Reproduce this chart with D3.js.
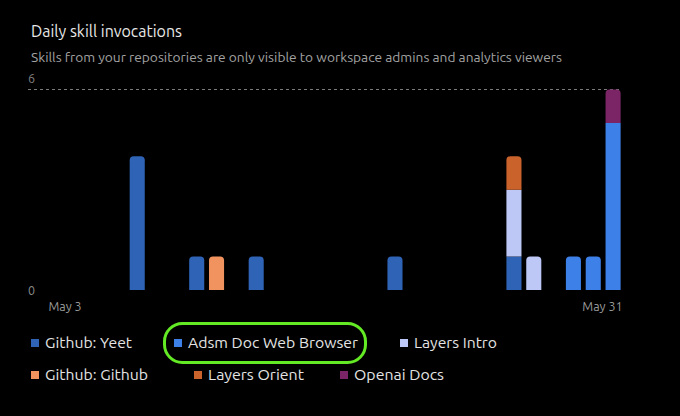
<!DOCTYPE html>
<html>
<head>
<meta charset="utf-8">
<script src="https://cdn.jsdelivr.net/npm/d3@7"></script>
<style>
  html, body { margin: 0; padding: 0; background: #000; }
  svg { display: block; }
  text { font-family: Ubuntu, "Noto Sans", "Open Sans", sans-serif; }
</style>
</head>
<body>
<svg id="chart" width="680" height="416"></svg>
<script>
const days = ["May 3","May 4","May 5","May 6","May 7","May 8","May 9","May 10","May 11","May 12",
  "May 13","May 14","May 15","May 16","May 17","May 18","May 19","May 20","May 21","May 22",
  "May 23","May 24","May 25","May 26","May 27","May 28","May 29","May 30","May 31"];
const seriesNames = ["Github: Yeet","Adsm Doc Web Browser","Layers Intro","Github: Github","Layers Orient","Openai Docs"];
const seriesColors = ["#2e63b6","#3d80e8","#bdc8f6","#f0935f","#c9622b","#7b2567"];
const githubYeet      = [0,0,0,0,4,0,0,1,0,0,1,0,0,0,0,0,0,1,0,0,0,0,0,1,0,0,0,0,0];
const adsmDocWeb      = [0,0,0,0,0,0,0,0,0,0,0,0,0,0,0,0,0,0,0,0,0,0,0,0,0,0,1,1,5];
const layersIntro     = [0,0,0,0,0,0,0,0,0,0,0,0,0,0,0,0,0,0,0,0,0,0,0,2,1,0,0,0,0];
const githubGithub    = [0,0,0,0,0,0,0,0,1,0,0,0,0,0,0,0,0,0,0,0,0,0,0,0,0,0,0,0,0];
const layersOrient    = [0,0,0,0,0,0,0,0,0,0,0,0,0,0,0,0,0,0,0,0,0,0,0,1,0,0,0,0,0];
const openaiDocs      = [0,0,0,0,0,0,0,0,0,0,0,0,0,0,0,0,0,0,0,0,0,0,0,0,0,0,0,0,1];
const yTicks = [0, 6];
const xTickLabels = ["May 3", "May 31"];
const titleText = "Daily skill invocations";
const subtitleText = "Skills from your repositories are only visible to workspace admins and analytics viewers";
const highlightedSeries = "Adsm Doc Web Browser";

const seriesValues = [githubYeet, adsmDocWeb, layersIntro, githubGithub, layersOrient, openaiDocs];
const table = days.map((d, i) => {
  const row = { day: d };
  seriesNames.forEach((s, j) => row[s] = seriesValues[j][i]);
  return row;
});

const svg = d3.select("#chart");

// Title & subtitle
svg.append("text").attr("x", 31).attr("y", 37)
  .attr("fill", "#e8e8e8").attr("font-size", 16)
  .attr("textLength", 151).attr("lengthAdjust", "spacingAndGlyphs")
  .text(titleText);
svg.append("text").attr("x", 31).attr("y", 62)
  .attr("fill", "#a3a3a3").attr("font-size", 13.5)
  .attr("textLength", 531).attr("lengthAdjust", "spacingAndGlyphs")
  .text(subtitleText);

const x = d3.scaleBand().domain(days).range([48, 623]).paddingInner(0.24).paddingOuter(0.12);
const y = d3.scaleLinear().domain([0, 6]).range([290, 89.5]);

// y grid at max
svg.append("line")
  .attr("x1", 28).attr("x2", 620)
  .attr("y1", y(6)).attr("y2", y(6))
  .attr("stroke", "#7a7a7a").attr("stroke-width", 1).attr("stroke-dasharray", "3,3");

// y labels
svg.append("text").attr("x", 28).attr("y", 83).attr("fill", "#7d7d7d").attr("font-size", 12.5).text(String(yTicks[1]));
svg.append("text").attr("x", 28).attr("y", y(yTicks[0]) + 5).attr("fill", "#8a8a8a").attr("font-size", 12.5).text(String(yTicks[0]));

// x labels
svg.append("text").attr("x", x(xTickLabels[0]) - 2).attr("y", 311)
  .attr("fill", "#9a9a9a").attr("font-size", 12.5).attr("text-anchor", "start").text(xTickLabels[0]);
svg.append("text").attr("x", x(xTickLabels[1]) + x.bandwidth() + 2).attr("y", 311)
  .attr("fill", "#9a9a9a").attr("font-size", 12.5).attr("text-anchor", "end").text(xTickLabels[1]);

// stacked bars
const stack = d3.stack().keys(seriesNames);
const stacked = stack(table);

const topIndex = days.map((d, i) => {
  let t = -1;
  seriesNames.forEach((s, j) => { if (seriesValues[j][i] > 0) t = j; });
  return t;
});

function segPath(x0, w, yTop, yBot, rounded) {
  const r = rounded ? Math.min(4, (yBot - yTop) / 2, w / 2) : 0;
  if (r <= 0) return `M${x0},${yBot}V${yTop}H${x0 + w}V${yBot}Z`;
  return `M${x0},${yBot}V${yTop + r}Q${x0},${yTop} ${x0 + r},${yTop}H${x0 + w - r}Q${x0 + w},${yTop} ${x0 + w},${yTop + r}V${yBot}Z`;
}

const g = svg.append("g");
stacked.forEach((layer, j) => {
  g.append("g").attr("fill", seriesColors[j])
    .selectAll("path")
    .data(layer.map((d, i) => ({ d, i })).filter(o => o.d[1] - o.d[0] > 0))
    .join("path")
    .attr("d", o => segPath(x(o.d.data.day), x.bandwidth(), y(o.d[1]), y(o.d[0]), topIndex[o.i] === j));
});

// legend
const legend = svg.append("g");
const legendPos = [
  { x: 31, row: 0, w: 87 }, { x: 174, row: 0, w: 170 }, { x: 400, row: 0, w: 83 },
  { x: 31, row: 1, w: 103 }, { x: 194, row: 1, w: 96 }, { x: 340, row: 1, w: 90 }
];
const rowY = [348, 380];
seriesNames.forEach((s, j) => {
  const p = legendPos[j];
  legend.append("rect").attr("x", p.x).attr("y", rowY[p.row] - 9).attr("width", 8).attr("height", 8)
    .attr("fill", seriesColors[j]);
  legend.append("text").attr("x", p.x + 14).attr("y", rowY[p.row])
    .attr("fill", "#e4e4e4").attr("font-size", 15)
    .attr("textLength", p.w).attr("lengthAdjust", "spacingAndGlyphs")
    .text(s);
  if (s === highlightedSeries) {
    legend.append("rect")
      .attr("x", p.x - 9.5).attr("y", rowY[p.row] - 24.5)
      .attr("width", p.w + 14 + 17).attr("height", 39)
      .attr("rx", 18).attr("ry", 18)
      .attr("fill", "none").attr("stroke", "#63ea25").attr("stroke-width", 3);
  }
});
</script>
</body>
</html>
